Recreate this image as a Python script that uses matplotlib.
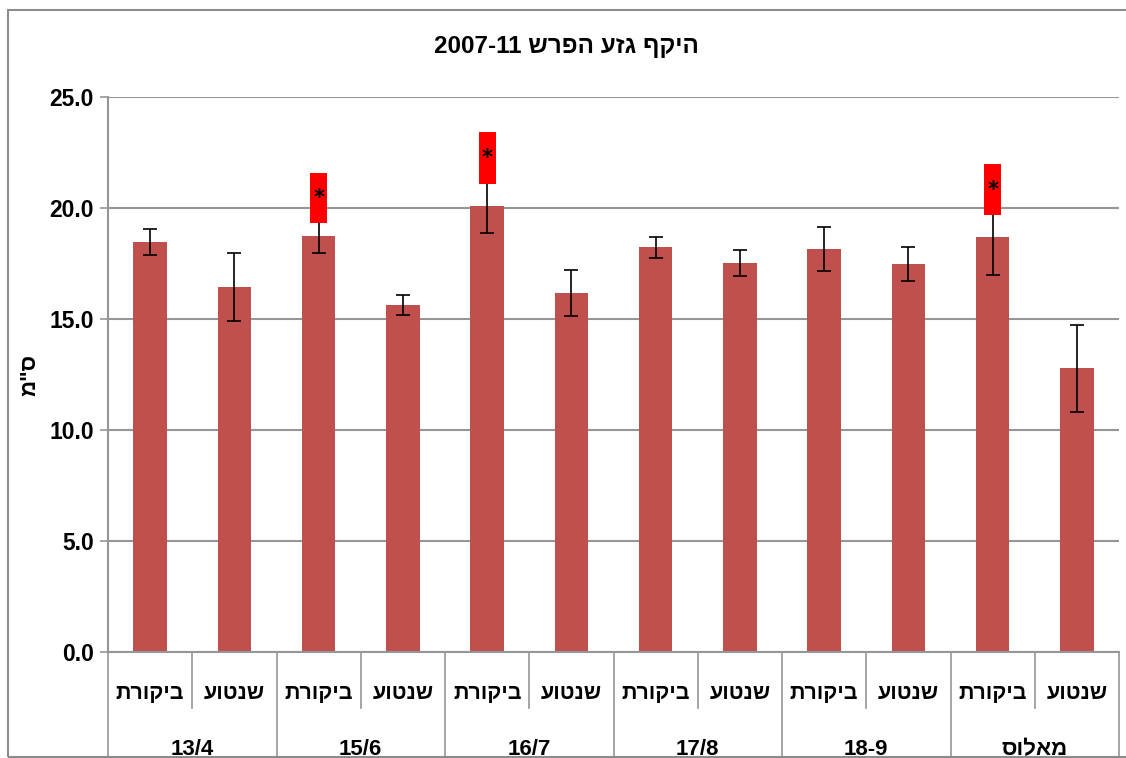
import numpy as np
import matplotlib
matplotlib.use('Agg')
from matplotlib import pyplot as plt
from matplotlib.patches import Rectangle

# data
groups = ['13/4', '15/6', '16/7', '17/8', '18-9', 'מאלוס']
treatments = ['ביקורת', 'שנטוע']
means = [18.47, 16.44, 18.74, 15.63, 20.09, 16.17, 18.24, 17.52, 18.15, 17.48, 18.69, 12.79]
errors = [0.58, 1.53, 0.77, 0.47, 1.22, 1.05, 0.47, 0.58, 1.0, 0.75, 1.7, 1.96]
# red "significant" boxes: category index, bottom, top
sig_index = [2, 4, 10]
sig_bottom = [19.32, 21.08, 19.68]
sig_top = [21.58, 23.42, 21.98]

title = 'היקף גזע הפרש 2007-11'
ylabel = 'ס"מ'


def vis(s):
    # matplotlib has no bidi, so lay the hebrew out in visual order
    def heb(t):
        return any('\u0590' <= c <= '\u05ff' for c in t)
    toks = s.split(' ')[::-1]
    return ' '.join(t[::-1] if heb(t) else t for t in toks)


plt.rcParams['font.family'] = ['Liberation Sans', 'DejaVu Sans']
plt.rcParams['font.weight'] = 'bold'

W, H = 1126, 758
fig = plt.figure(figsize=(W / 100, H / 100), dpi=100)
ax = fig.add_axes([108 / W, 1 - 652 / H, (1119 - 108) / W, (652 - 97) / H])

grid_col = '#969696'
bar_col = '#C0504D'

x = np.arange(len(means))
ax.bar(x, means, width=0.4, color=bar_col, zorder=2)
ax.errorbar(x, means, yerr=errors, fmt='none', ecolor='black', elinewidth=1.2,
            capsize=5, capthick=1.2, zorder=3)

sx = np.array(sig_index)
sb = np.array(sig_bottom)
st = np.array(sig_top)
ax.bar(sx, st - sb, bottom=sb, width=0.2, color='#FF0000', zorder=4)
for i, b, t in zip(sx, sb, st):
    ax.text(i, (b + t) / 2, '*', ha='center', va='center', fontsize=15,
            family='DejaVu Sans', color='black', zorder=5)

ax.set_xlim(-0.5, len(means) - 0.5)
ax.set_ylim(0, 25)
ax.set_yticks(np.arange(0, 25.1, 5))
ax.set_yticklabels(['%.1f' % v for v in np.arange(0, 25.1, 5)])
ax.yaxis.grid(True, color=grid_col, linewidth=1.5, zorder=0)
ax.set_axisbelow(True)
ax.tick_params(axis='y', length=6, width=1.2, color=grid_col, labelsize=16.5, pad=4)
ax.set_xticks([])
for s in ['top', 'right']:
    ax.spines[s].set_visible(False)
ax.spines['left'].set_color(grid_col)
ax.spines['left'].set_linewidth(1.5)
ax.spines['bottom'].set_color(grid_col)
ax.spines['bottom'].set_linewidth(1.5)

# two level category axis
tr = ax.get_xaxis_transform()
n = len(means)
for k in range(n + 1):
    xb = k - 0.5
    y1 = -0.101 if k % 2 == 1 else -0.2
    ax.plot([xb, xb], [0, y1], color=grid_col, linewidth=1.2, transform=tr, clip_on=False)
for k in range(n):
    ax.text(k, -0.074, vis(treatments[k % 2]), transform=tr, ha='center', va='center',
            fontsize=15.5)
for g, name in enumerate(groups):
    ax.text(2 * g + 0.5, (652 - 755) / 555, vis(name), transform=tr, ha='center',
            va='baseline', fontsize=16)

fig.text(566 / W, 1 - 47 / H, vis(title), ha='center', va='center', fontsize=17.5)
fig.text(30 / W, 1 - 375 / H, vis(ylabel), ha='center', va='center', fontsize=16,
         rotation=90)

# chart area border
fig.add_artist(Rectangle((8 / W, 1 - 757 / H), 1.2, (757 - 10) / H,
                         transform=fig.transFigure, fill=False, edgecolor='#8C8C8C',
                         linewidth=1.5))

fig.savefig('out.png', dpi=100)
